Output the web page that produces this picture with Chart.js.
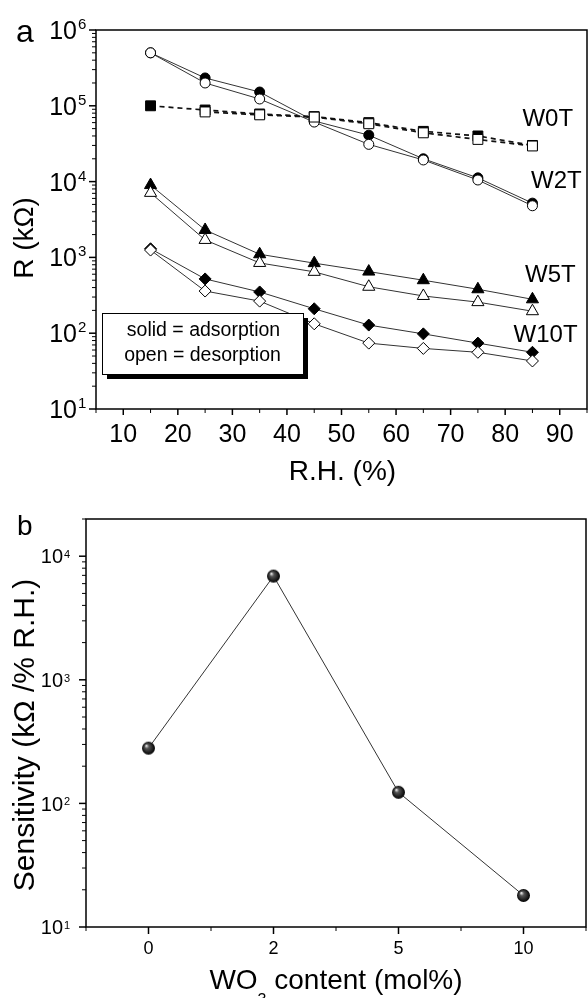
<!DOCTYPE html>
<html>
<head>
<meta charset="utf-8">
<script src="https://cdn.jsdelivr.net/npm/chart.js@4.4.1/dist/chart.umd.min.js"></script>
<style>
  html, body { margin: 0; padding: 0; background: #fff; }
  #wrapA { position: absolute; left: 0; top: 0; width: 588px; height: 490px; }
  #wrapB { position: absolute; left: 0; top: 490px; width: 588px; height: 508px; }
  canvas { display: block; }
</style>
</head>
<body>
<div id="wrapA"><canvas id="chartA" width="588" height="490"></canvas></div>
<div id="wrapB"><canvas id="chartB" width="588" height="508"></canvas></div>
<script>
// panel a: resistance vs relative humidity
const rh = [15, 25, 35, 45, 55, 65, 75, 85];
const w0tAds = [1.0e5, 8.8e4, 7.8e4, 7.2e4, 6.0e4, 4.6e4, 4.0e4, 3.0e4];
const w0tDes = [null, 8.3e4, 7.6e4, 7.1e4, 5.8e4, 4.4e4, 3.6e4, 2.95e4];
const w2tAds = [5.0e5, 2.33e5, 1.52e5, 6.3e4, 4.1e4, 2.0e4, 1.12e4, 5.2e3];
const w2tDes = [5.0e5, 2.0e5, 1.23e5, 6.1e4, 3.1e4, 1.93e4, 1.05e4, 4.8e3];
const w5tAds = [9.0e3, 2.3e3, 1.1e3, 840, 650, 500, 380, 280];
const w5tDes = [7.1e3, 1.7e3, 845, 645, 410, 310, 257, 195];
const w10tAds = [1.3e3, 520, 350, 210, 128, 98, 74, 56];
const w10tDes = [1.25e3, 360, 265, 133, 74, 63, 56, 43];
const rhTicks = [10, 20, 30, 40, 50, 60, 70, 80, 90];

// panel b: sensitivity vs WO3 content
const wo3Content = ['0', '2', '5', '10'];
const sensitivity = [280, 6900, 123, 18];

const FONT = '"Liberation Sans", Arial, Helvetica, sans-serif';
Chart.defaults.font.family = FONT;
Chart.defaults.animation = false;

function pts(ys) {
    return rh.map((x, i) => ({ x: x, y: ys[i] }));
}

function series(label, ys, style, filled, dashed, radius, order) {
    return {
        label: label,
        data: pts(ys),
        borderColor: dashed ? '#111' : '#333',
        borderWidth: dashed ? 1.7 : 1,
        borderDash: dashed ? [5, 4] : [],
        pointStyle: style,
        pointRadius: radius,
        pointBorderWidth: 1,
        pointBorderColor: '#000',
        pointBackgroundColor: filled ? '#000' : '#fff',
        spanGaps: true,
        order: order
    };
}

function line(ctx, x1, y1, x2, y2, w) {
    ctx.lineWidth = w;
    ctx.beginPath();
    ctx.moveTo(x1, y1);
    ctx.lineTo(x2, y2);
    ctx.stroke();
}

// log axis on the left: ticks at 1..9 x 10^n, labels 10^n
function logAxisY(ctx, scale, area, size, supSize, supRise, gap) {
    const lo = Math.round(Math.log10(scale.min));
    const hi = Math.floor(Math.log10(scale.max) + 1e-9);
    ctx.strokeStyle = '#000';
    for (let e = lo; e <= hi; e++) {
        for (let m = 1; m <= 9; m++) {
            const v = m * Math.pow(10, e);
            if (v > scale.max * 1.0001) break;
            const py = scale.getPixelForValue(v);
            line(ctx, area.left, py, area.left - (m === 1 ? 7 : 4), py, m === 1 ? 1.5 : 1);
        }
        const py = scale.getPixelForValue(Math.pow(10, e));
        ctx.fillStyle = '#000';
        ctx.font = size + 'px ' + FONT;
        ctx.textAlign = 'right';
        ctx.textBaseline = 'alphabetic';
        ctx.fillText('10', area.left - gap, py + size * 0.36);
        ctx.font = supSize + 'px ' + FONT;
        ctx.textAlign = 'left';
        ctx.fillText(String(e), area.left - gap + 1, py - supRise);
    }
}

function frame(ctx, a) {
    ctx.strokeStyle = '#000';
    ctx.lineWidth = 1.5;
    ctx.strokeRect(a.left, a.top, a.right - a.left, a.bottom - a.top);
}

// no space reserved by the library's own axes, the plugins draw them
const bareAxis = {
    grid: { display: false, drawTicks: false },
    border: { display: false },
    ticks: { display: false }
};

const panelA = {
    id: 'panelA',
    afterDatasetsDraw(chart) {
        const { ctx, chartArea: a, scales: { x, y } } = chart;
        ctx.save();

        // legend box with drop shadow
        const bx = a.left + 6, by = a.bottom - 96, bw = 201, bh = 61;
        ctx.fillStyle = '#000';
        ctx.fillRect(bx + 5, by + 5, bw, bh);
        ctx.fillStyle = '#fff';
        ctx.fillRect(bx, by, bw, bh);
        ctx.strokeStyle = '#000';
        ctx.lineWidth = 1;
        ctx.strokeRect(bx + 0.5, by + 0.5, bw, bh);
        ctx.fillStyle = '#000';
        ctx.font = '19.5px ' + FONT;
        ctx.textAlign = 'center';
        ctx.textBaseline = 'alphabetic';
        ctx.fillText('solid = adsorption', bx + bw / 2 + 1, by + 23);
        ctx.fillText('open = desorption', bx + bw / 2, by + 48);

        frame(ctx, a);

        // x ticks
        ctx.strokeStyle = '#000';
        for (let v = x.min; v <= x.max; v += 5) {
            const px = x.getPixelForValue(v);
            const major = v % 10 === 0;
            line(ctx, px, a.bottom, px, a.bottom + (major ? 6 : 4), major ? 1.5 : 1);
        }
        ctx.font = '25px ' + FONT;
        ctx.textAlign = 'center';
        rhTicks.forEach(v => {
            ctx.fillText(String(v), x.getPixelForValue(v), a.bottom + 33);
        });

        logAxisY(ctx, y, a, 25, 15, 1, 19);

        // series names
        ctx.font = '24px ' + FONT;
        ctx.textAlign = 'center';
        [['W0T', 87.8, 7.1e4], ['W2T', 89.4, 1.05e4], ['W5T', 88.3, 620], ['W10T', 87.4, 100]].forEach(t => {
            ctx.fillText(t[0], x.getPixelForValue(t[1]), y.getPixelForValue(t[2]) + 8.5);
        });

        // axis titles
        ctx.font = '28px ' + FONT;
        ctx.fillText('R.H. (%)', (a.left + a.right) / 2 + 1, a.bottom + 71);
        ctx.save();
        ctx.translate(33, 238);
        ctx.rotate(-Math.PI / 2);
        ctx.fillText('R (k\u03A9)', 0, 0);
        ctx.restore();

        ctx.font = '32px ' + FONT;
        ctx.textAlign = 'left';
        ctx.fillText('a', 16, 42);
        ctx.restore();
    }
};

new Chart(document.getElementById('chartA'), {
    type: 'line',
    data: {
        datasets: [
            series('W0T ads', w0tAds, 'rect', true, true, 7, 1),
            series('W0T des', w0tDes, 'rect', false, true, 7, 0),
            series('W2T ads', w2tAds, 'circle', true, false, 5, 1),
            series('W2T des', w2tDes, 'circle', false, false, 5, 0),
            series('W5T ads', w5tAds, 'triangle', true, false, 7, 1),
            series('W5T des', w5tDes, 'triangle', false, false, 7, 0),
            series('W10T ads', w10tAds, 'rectRot', true, false, 6, 1),
            series('W10T des', w10tDes, 'rectRot', false, false, 6, 0)
        ]
    },
    options: {
        responsive: false,
        layout: { autoPadding: false, padding: { left: 96, top: 30, right: 1, bottom: 81 } },
        plugins: { legend: { display: false }, tooltip: { enabled: false } },
        scales: {
            x: Object.assign({ type: 'linear', min: 5, max: 95 }, bareAxis),
            y: Object.assign({ type: 'logarithmic', min: 10, max: 1e6 }, bareAxis)
        }
    },
    plugins: [panelA]
});

// shaded ball marker for panel b
function sphere(r) {
    const c = document.createElement('canvas');
    const s = Math.ceil(r * 2) + 2;
    c.width = s;
    c.height = s;
    const g = c.getContext('2d');
    const grad = g.createRadialGradient(s / 2 - r * 0.35, s / 2 - r * 0.4, r * 0.05, s / 2, s / 2, r);
    grad.addColorStop(0, '#e8e8e8');
    grad.addColorStop(0.3, '#555');
    grad.addColorStop(1, '#000');
    g.fillStyle = grad;
    g.beginPath();
    g.arc(s / 2, s / 2, r, 0, Math.PI * 2);
    g.fill();
    return c;
}

const panelB = {
    id: 'panelB',
    afterDatasetsDraw(chart) {
        const { ctx, chartArea: a, scales: { x, y } } = chart;
        ctx.save();
        frame(ctx, a);

        ctx.strokeStyle = '#000';
        for (let i = -0.5; i <= wo3Content.length - 0.5; i += 0.5) {
            const px = x.getPixelForValue(i);
            const major = Number.isInteger(i);
            line(ctx, px, a.bottom, px, a.bottom + (major ? 7 : 4), major ? 1.5 : 1);
        }
        ctx.fillStyle = '#000';
        ctx.font = '18px ' + FONT;
        ctx.textAlign = 'center';
        ctx.textBaseline = 'alphabetic';
        wo3Content.forEach((c, i) => {
            ctx.fillText(c, x.getPixelForValue(i), a.bottom + 27);
        });

        logAxisY(ctx, y, a, 20, 11, -2, 23);

        // x title with subscript
        const cx = (a.left + a.right) / 2;
        const by = a.bottom + 62;
        ctx.font = '28px ' + FONT;
        const w1 = ctx.measureText('WO').width;
        const w3 = ctx.measureText(' content (mol%)').width;
        ctx.font = '16px ' + FONT;
        const w2 = ctx.measureText('3').width;
        let sx = cx - (w1 + w2 + w3) / 2;
        ctx.textAlign = 'left';
        ctx.font = '28px ' + FONT;
        ctx.fillText('WO', sx, by);
        ctx.font = '16px ' + FONT;
        ctx.fillText('3', sx + w1, by + 16);
        ctx.font = '28px ' + FONT;
        ctx.fillText(' content (mol%)', sx + w1 + w2, by);

        // y title
        ctx.save();
        ctx.translate(34, 245);
        ctx.rotate(-Math.PI / 2);
        ctx.font = '30px ' + FONT;
        ctx.textAlign = 'center';
        ctx.fillText('Sensitivity (k\u03A9 /% R.H.)', 0, 0);
        ctx.restore();

        ctx.font = '28px ' + FONT;
        ctx.textAlign = 'left';
        ctx.fillText('b', 17, 45);
        ctx.restore();
    }
};

new Chart(document.getElementById('chartB'), {
    type: 'line',
    data: {
        labels: wo3Content,
        datasets: [{
            label: 'Sensitivity',
            data: sensitivity,
            borderColor: '#333',
            borderWidth: 1,
            pointStyle: sphere(6.5),
            pointRadius: 7
        }]
    },
    options: {
        responsive: false,
        layout: { autoPadding: false, padding: { left: 86, top: 29, right: 2, bottom: 71 } },
        plugins: { legend: { display: false }, tooltip: { enabled: false } },
        scales: {
            x: Object.assign({ type: 'category', offset: true }, bareAxis),
            y: Object.assign({ type: 'logarithmic', min: 10, max: 20000 }, bareAxis)
        }
    },
    plugins: [panelB]
});
</script>
</body>
</html>
